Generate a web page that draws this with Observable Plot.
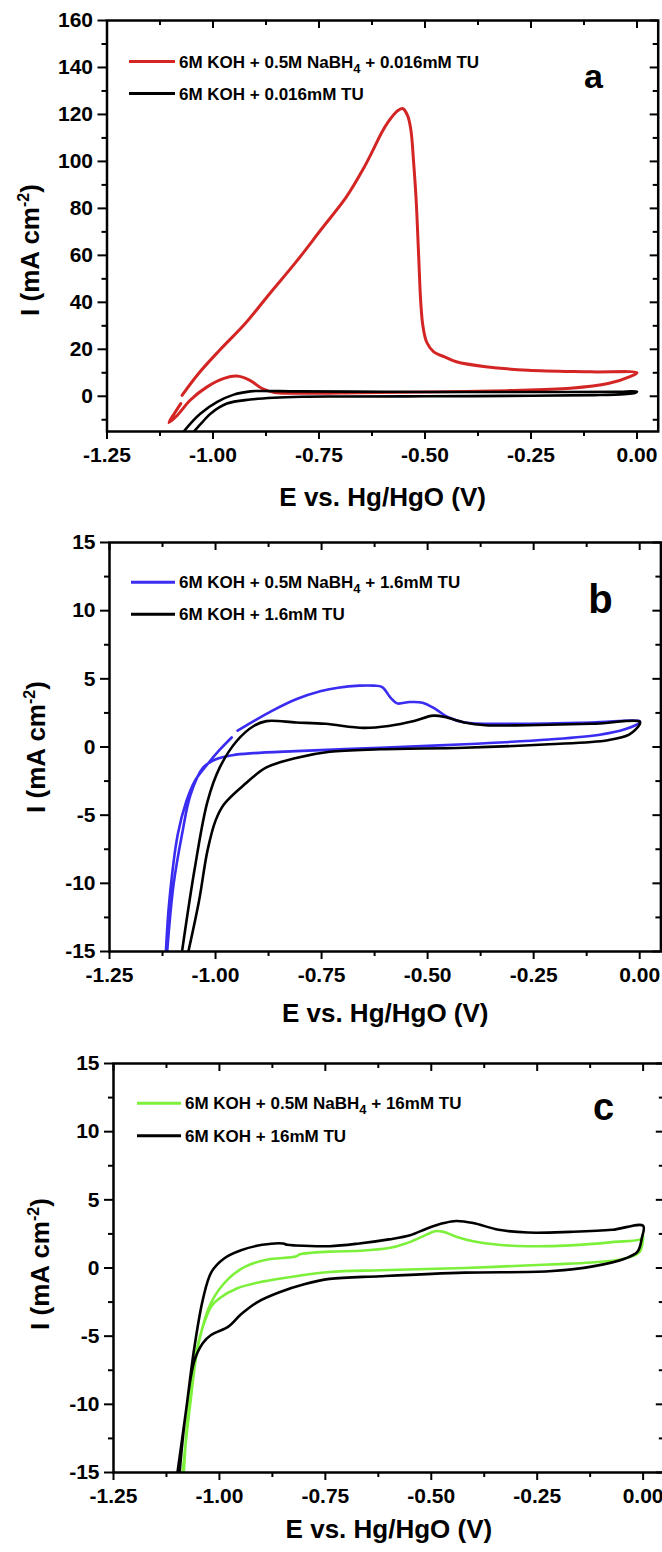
<!DOCTYPE html>
<html><head><meta charset="utf-8">
<script src="https://cdn.jsdelivr.net/npm/d3@7"></script>
<script src="https://cdn.jsdelivr.net/npm/@observablehq/plot@0.6"></script>
<style>
html,body{margin:0;padding:0;background:#fff;}
#wrap{width:662px;height:1552px;overflow:hidden;position:relative;background:#fff;}
#wrap svg{display:block;}
#wrap svg text{font-weight:bold !important;}
</style></head><body><div id="wrap"></div>
<script>
// ---------- axis ticks ----------
const xMajor = [-1.25, -1, -0.75, -0.5, -0.25, 0];
const xMinor = [-1.125, -0.875, -0.625, -0.375, -0.125];
const yMajorA = [0, 20, 40, 60, 80, 100, 120, 140, 160];
const yMinorA = [-10, 10, 30, 50, 70, 90, 110, 130, 150];
const yMajorBC = [-15, -10, -5, 0, 5, 10, 15];
const yMinorBC = [-12.5, -7.5, -2.5, 2.5, 7.5, 12.5];
const xTitle = "E vs. Hg/HgO (V)";
const yTitle = "I (mA cm-2)";

// ---------- panel a ----------
const legendA = ["6M KOH + 0.5M NaBH_4 + 0.016mM TU", "6M KOH + 0.016mM TU"];
const redE = [-1.073,-1.034,-0.984,-0.924,-0.865,-0.805,-0.745,-0.685,-0.645,-0.622,-0.603,-0.586,-0.565,-0.553,-0.541,-0.533,-0.527,-0.521,-0.515,-0.51,-0.505,-0.496,-0.48,-0.45,-0.426,-0.357,-0.257,-0.108,0.0,
  -0.018,-0.068,-0.157,-0.307,-0.506,-0.655,-0.805,-0.855,-0.884,-0.914,-0.944,-0.974,-1.014,-1.054,-1.084,-1.104,-1.09,-1.076];
const redI = [0.4,9.7,19.7,31,44,57,71,85,97,105,112,117,121.5,122.5,119.5,113,100,84,60,40,30,23,19,16.5,14.7,12.6,11.1,10.4,10,
  8.3,5.4,3.4,2.4,1.8,1.5,1.3,1.6,3.3,6.9,8.6,7.6,4,-1.7,-8.1,-11.2,-7,-3.1];
const blackAE = [-1.069,-1.05,-1.03,-0.99,-0.951,-0.912,-0.896,-0.8,-0.6,-0.4,-0.2,-0.05,0,
  -0.005,-0.03,-0.1,-0.25,-0.5,-0.7,-0.79,-0.857,-0.912,-0.967,-1.006,-1.025,-1.045];
const blackAI = [-15,-11,-7.4,-2.4,0.7,2.1,2.25,2.1,1.9,1.8,1.8,1.9,2.0,
  1.4,0.9,0.5,0.2,0.0,-0.1,-0.2,-0.6,-1.4,-3.1,-7.4,-11,-15];

// ---------- panel b ----------
const legendB = ["6M KOH + 0.5M NaBH_4 + 1.6mM TU", "6M KOH + 1.6mM TU"];
const blueE = [-1.114,-1.099,-1.079,-1.059,-1.029,-0.999,-0.96,-0.91,-0.81,-0.612,-0.413,-0.214,-0.094,-0.035,0,
  0,-0.114,-0.313,-0.413,-0.453,-0.482,-0.512,-0.542,-0.572,-0.587,-0.607,-0.627,-0.661,-0.711,-0.751,-0.81,-0.87,-0.91,-0.948,NaN,-0.962,-0.99,-1.02,-1.049,-1.069,-1.089,-1.109,-1.117];
const blueI = [-15,-10.1,-6.4,-3.5,-1.5,-0.9,-0.6,-0.45,-0.3,-0.05,0.2,0.55,0.9,1.3,1.8,
  1.9,1.8,1.7,1.8,2.2,2.8,3.25,3.3,3.2,3.6,4.4,4.5,4.5,4.35,4.1,3.5,2.6,1.9,1.2,NaN,0.7,-0.2,-1.3,-2.5,-4,-6.4,-11.3,-15];
const blackBE = [-1.079,-1.049,-1.019,-0.99,-0.95,-0.91,-0.88,-0.81,-0.741,-0.651,-0.592,-0.532,-0.487,-0.453,-0.413,-0.363,-0.264,-0.114,0,
  0,-0.025,-0.075,-0.214,-0.413,-0.612,-0.731,-0.81,-0.88,-0.93,-0.98,-1.0,-1.019,-1.039,-1.064];
const blackBI = [-15,-8.9,-4,-1.5,0.44,1.54,1.9,1.8,1.7,1.4,1.54,1.9,2.3,2.15,1.8,1.6,1.6,1.7,1.86,
  1.67,0.9,0.5,0.2,-0.05,-0.17,-0.35,-0.8,-1.5,-2.7,-4.2,-5.4,-7.6,-11.3,-15];

// ---------- panel c ----------
const legendC = ["6M KOH + 0.5M NaBH_4 + 16mM TU", "6M KOH + 16mM TU"];
const greenE = [-1.087,-1.069,-1.049,-1.019,-0.979,-0.939,-0.889,-0.82,-0.81,-0.74,-0.67,-0.6,-0.56,-0.521,-0.491,-0.471,-0.441,-0.401,-0.341,-0.272,-0.172,-0.073,-0.003,0,
  -0.008,-0.042,-0.122,-0.222,-0.421,-0.62,-0.74,-0.82,-0.899,-0.959,-0.999,-1.019,-1.039,-1.059,-1.074,-1.084];
const greenI = [-15,-10,-5.5,-2.5,-0.8,0.1,0.6,0.84,1.0,1.2,1.26,1.46,1.8,2.3,2.7,2.65,2.3,1.96,1.7,1.6,1.66,1.9,2.15,2.4,
  1.2,0.7,0.4,0.26,0,-0.16,-0.29,-0.6,-1.0,-1.5,-2.2,-2.8,-4.3,-6.8,-10.5,-15];
const blackCE = [-1.099,-1.079,-1.059,-1.039,-1.019,-0.989,-0.949,-0.899,-0.85,-0.84,-0.82,-0.74,-0.67,-0.6,-0.55,-0.51,-0.47,-0.441,-0.401,-0.341,-0.272,-0.172,-0.073,0,
  -0.003,-0.013,-0.042,-0.122,-0.222,-0.421,-0.62,-0.74,-0.8,-0.86,-0.91,-0.949,-0.979,-1.019,-1.039,-1.059,-1.079,-1.094];
const blackCI = [-15,-10.5,-5.8,-2.3,-0.3,0.7,1.3,1.7,1.8,1.7,1.65,1.6,1.8,2.1,2.4,2.9,3.3,3.45,3.3,2.8,2.6,2.65,2.8,3.1,
  2.2,1.2,0.7,0.1,-0.24,-0.34,-0.6,-0.8,-1.2,-1.8,-2.5,-3.4,-4.3,-4.9,-5.5,-6.8,-10.5,-15];

// ---------- colours ----------
const RED = "#d42525", BLUE = "#3a2cf0", GREEN = "#7cf03a", BLACK = "#000000";
const FONT = "'Liberation Sans', Arial, Helvetica, sans-serif";

function toRows(E, I) { return E.map((e, i) => ({E: e, I: I[i]})); }

function panel(o) {
  const innerW = o.width - o.ml - o.mr, innerH = o.height - o.mt - o.mb;
  const marks = [];
  for (const s of o.series) {
    marks.push(Plot.line(toRows(s.E, s.I), {x: "E", y: "I", stroke: s.color, strokeWidth: s.w, curve: "catmull-rom", clip: true, strokeLinejoin: "round"}));
  }
  marks.push(Plot.frame({stroke: "black", strokeWidth: 2.5}));
  const tl = {fontSize: 21, fontWeight: "bold", fontFamily: FONT, fill: "black"};
  // bottom (outward)
  marks.push(Plot.axisX(xMajor, {anchor: "bottom", tickSize: 8, tickPadding: 8, strokeWidth: 2, tickFormat: d => d.toFixed(2), label: null, ...tl}));
  marks.push(Plot.axisX(xMinor, {anchor: "bottom", tickSize: 5, strokeWidth: 2, tickFormat: () => "", label: null}));
  // left (outward)
  marks.push(Plot.axisY(o.yMajor, {anchor: "left", tickSize: 9, tickPadding: 5, strokeWidth: 2, tickFormat: d => String(d), label: null, ...tl}));
  marks.push(Plot.axisY(o.yMinor, {anchor: "left", tickSize: 5, strokeWidth: 2, tickFormat: () => "", label: null}));
  // top & right (inward)
  marks.push(Plot.tickX(xMajor, {x: d => d, insetBottom: innerH - 8, strokeWidth: 2}));
  marks.push(Plot.tickX(xMinor, {x: d => d, insetBottom: innerH - 5, strokeWidth: 2}));
  marks.push(Plot.tickY(o.yMajor, {y: d => d, insetLeft: innerW - 8, strokeWidth: 2}));
  marks.push(Plot.tickY(o.yMinor, {y: d => d, insetLeft: innerW - 5, strokeWidth: 2}));
  // titles
  marks.push(Plot.text([xTitle], {text: d => d, frameAnchor: "bottom", dy: o.xtDy, lineAnchor: "middle", fontSize: 26, fontWeight: "bold", fontFamily: FONT, fill: "black"}));
  marks.push(Plot.text([yTitle], {text: d => d, frameAnchor: "left", rotate: -90, dx: o.ytDx, dy: o.ytDy, lineAnchor: "middle", textAnchor: "middle", fontSize: 26, fontWeight: "bold", fontFamily: FONT, fill: "black"}));
  marks.push(Plot.text([o.letter], {text: d => d, frameAnchor: "top-right", dx: o.lDx, dy: o.lDy, lineAnchor: "middle", textAnchor: "middle", fontSize: o.lSize, fontWeight: "bold", fontFamily: FONT, fill: "black"}));

  const svg = Plot.plot({
    width: o.width, height: o.height,
    marginTop: o.mt, marginBottom: o.mb, marginLeft: o.ml, marginRight: o.mr,
    x: {domain: [-1.25, 0.05]},
    y: {domain: o.yDomain},
    style: {fontFamily: FONT, fontSize: "21px", fontWeight: "bold", background: "white", maxWidth: "none", overflow: "visible", color: "black"},
    marks
  });

  const s = d3.select(svg);
  // every text of this figure is bold; tick labels 21px
  s.selectAll('g[aria-label*="tick label"] text').style("font-size", "21px").style("font-weight", "bold").style("font-family", FONT).style("fill", "black");
  s.selectAll("text").style("font-weight", "bold");
  // superscript in y title
  s.selectAll("text").filter(function() { return this.textContent === yTitle; }).each(function() {
    const t = d3.select(this); t.text(null);
    t.append("tspan").text("I (mA cm");
    t.append("tspan").attr("dy", -10).attr("font-size", 16).text("-2");
    t.append("tspan").attr("dy", 10).text(")");
  });
  // legend
  const g = s.append("g").attr("text-anchor", "start");
  o.legend.forEach((label, i) => {
    const y = o.legY[i];
    g.append("line").attr("x1", o.legX1).attr("x2", o.legX2).attr("y1", y).attr("y2", y)
      .attr("stroke", o.legColors[i]).attr("stroke-width", 3);
    const t = g.append("text").attr("x", o.legX2 + 4).attr("y", y + 6).attr("text-anchor", "start")
      .attr("font-family", FONT).attr("font-size", 17).attr("font-weight", "bold").attr("fill", "black");
    const parts = label.split("_");
    if (parts.length === 1) { t.text(label); }
    else {
      t.append("tspan").text(parts[0]);
      t.append("tspan").attr("dy", 5).attr("font-size", 13).text(parts[1][0]);
      t.append("tspan").attr("dy", -5).text(parts[1].slice(1));
    }
  });
  return svg;
}

const wrap = document.getElementById("wrap");
wrap.appendChild(panel({
  width: 662, height: 520, mt: 20, mb: 89, ml: 106.5, mr: 4.3,
  yDomain: [-15, 160], yMajor: yMajorA, yMinor: yMinorA,
  series: [{E: redE, I: redI, color: RED, w: 3}, {E: blackAE, I: blackAI, color: BLACK, w: 2.6}],
  xtDy: 66, ytDx: -76.5, ytDy: 24,
  letter: "a", lDx: -64.7, lDy: 57, lSize: 34,
  legend: legendA, legY: [61.5, 93.5], legX1: 129, legX2: 175, legColors: [RED, BLACK]
}));
wrap.appendChild(panel({
  width: 662, height: 520, mt: 22, mb: 89, ml: 109, mr: 1.6,
  yDomain: [-15, 15], yMajor: yMajorBC, yMinor: yMinorBC,
  series: [{E: blueE, I: blueI, color: BLUE, w: 2.6}, {E: blackBE, I: blackBI, color: BLACK, w: 2.6}],
  xtDy: 62, ytDx: -73, ytDy: 0,
  letter: "b", lDx: -60.4, lDy: 58, lSize: 40,
  legend: legendB, legY: [62.3, 94.3], legX1: 131, legX2: 175, legColors: [BLUE, BLACK]
}));
wrap.appendChild(panel({
  width: 668, height: 512, mt: 23, mb: 80, ml: 113, mr: 4.2,
  yDomain: [-15, 15], yMajor: yMajorBC, yMinor: yMinorBC,
  series: [{E: greenE, I: greenI, color: GREEN, w: 2.6}, {E: blackCE, I: blackCI, color: BLACK, w: 2.6}],
  xtDy: 57, ytDx: -73, ytDy: -4,
  letter: "c", lDx: -60.8, lDy: 44, lSize: 38,
  legend: legendC, legY: [63.3, 95.7], legX1: 137, legX2: 181, legColors: [GREEN, BLACK]
}));
</script></body></html>
